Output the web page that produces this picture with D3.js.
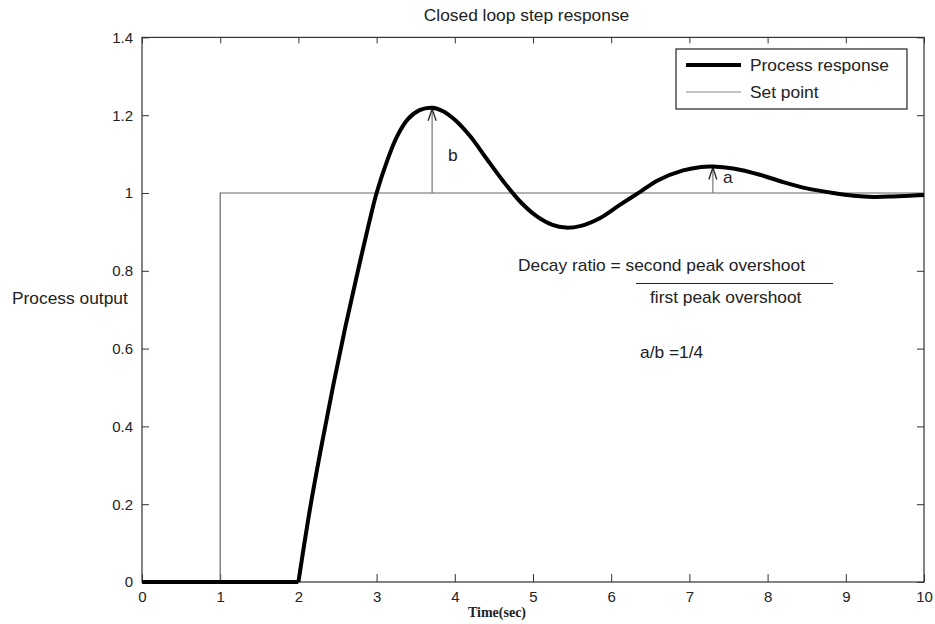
<!DOCTYPE html>
<html><head><meta charset="utf-8">
<script src="https://cdn.jsdelivr.net/npm/d3@7"></script>
<style>body{margin:0;background:#fff}svg{display:block}text{font-family:"Liberation Sans",Arial,sans-serif;fill:#222}</style>
</head><body>
<svg id="c" width="935" height="624"></svg>
<script>
const title = "Closed loop step response";
const xLabel = "Time(sec)";
const yLabel = "Process output";
const xTicks = [0,1,2,3,4,5,6,7,8,9,10];
const yTicks = [0,0.2,0.4,0.6,0.8,1,1.2,1.4];
const yTickLabels = ["0","0.2","0.4","0.6","0.8","1","1.2","1.4"];
const setT = [0,1,1,10];
const setY = [0,0,1,1];
const respT = [0,2.0,2.15,2.3,2.45,2.6,2.75,2.9,3.0,3.13,3.26,3.4,3.55,3.71,3.85,4.0,4.2,4.4,4.62,4.85,5.05,5.25,5.42,5.6,5.86,6.1,6.37,6.6,6.92,7.15,7.3,7.56,7.9,8.2,8.5,8.84,9.1,9.35,9.6,10];
const respY = [0,0,0.19,0.355,0.51,0.655,0.79,0.92,1.0,1.08,1.145,1.19,1.213,1.219,1.21,1.188,1.145,1.09,1.03,0.975,0.94,0.918,0.911,0.915,0.936,0.968,1.003,1.033,1.058,1.067,1.068,1.063,1.047,1.028,1.012,1.0,0.993,0.99,0.991,0.995];
const annB = {t:3.71, y0:1, y1:1.219, label:"b"};
const annA = {t:7.3, y0:1, y1:1.068, label:"a"};
const legendItems = ["Process response","Set point"];

const svg = d3.select("#c");
const x = d3.scaleLinear().domain([0,10]).range([142,924]);
const y = d3.scaleLinear().domain([0,1.4]).range([582,37.4]);
const SX = 1.085;
function stext(px,py,str,anchor){
  return svg.append("text").attr("transform",`translate(${px},${py}) scale(${SX},1)`)
    .attr("text-anchor",anchor||"start").style("font-size","16px").text(str);
}

stext(526.5,21,title,"middle");

// frame
svg.append("rect").attr("x",142).attr("y",y(1.4)).attr("width",782).attr("height",582-y(1.4)).attr("fill","none").attr("stroke","#333").attr("stroke-width",1.2);

// axes
const xb = svg.append("g").attr("transform","translate(0,582)").call(d3.axisBottom(x).tickValues(xTicks).tickSizeInner(-8).tickSizeOuter(0).tickPadding(12).tickFormat(d3.format("d")));
const xt = svg.append("g").attr("transform",`translate(0,${y(1.4)})`).call(d3.axisTop(x).tickValues(xTicks).tickSizeInner(-6).tickSizeOuter(0).tickFormat(""));
const yl = svg.append("g").attr("transform","translate(142,0)").call(d3.axisLeft(y).tickValues(yTicks).tickSizeInner(-7).tickSizeOuter(0).tickPadding(9).tickFormat((d,i)=>yTickLabels[i]));
const yr = svg.append("g").attr("transform","translate(924,0)").call(d3.axisRight(y).tickValues(yTicks).tickSizeInner(-7).tickSizeOuter(0).tickFormat(""));
[xb,xt,yl,yr].forEach(g=>{g.select(".domain").remove();g.selectAll("line").attr("stroke","#333");g.selectAll("text").style("font-size","15px").style("font-family","'Liberation Sans',Arial,sans-serif").attr("fill","#222");});
xb.selectAll("text").attr("dy","0.5em");

// set point
const line = d3.line().x(d=>x(d[0])).y(d=>y(d[1]));
svg.append("path").attr("d",line(setT.map((t,i)=>[t,setY[i]]))).attr("fill","none").attr("stroke","#666").attr("stroke-width",1.2);

// annotation arrows
function arrow(a, lx, ly){
  const xp=x(a.t), ytop=y(a.y1)+1;
  svg.append("line").attr("x1",xp).attr("x2",xp).attr("y1",y(a.y0)).attr("y2",ytop).attr("stroke","#777").attr("stroke-width",1.2);
  svg.append("path").attr("d",`M${xp-4},${ytop+12}L${xp},${ytop}L${xp+4},${ytop+12}`).attr("fill","none").attr("stroke","#222").attr("stroke-width",1.3);
  stext(lx,ly,a.label);
}
arrow(annB,448,161);
arrow(annA,723,183);

// response: flat part linear, dynamic part smooth
const pts = respT.map((t,i)=>[t,respY[i]]);
const flat = pts.filter(d=>d[0]<=2);
const dyn = pts.filter(d=>d[0]>=2);
svg.append("path").attr("d",line(flat)).attr("fill","none").attr("stroke","#000").attr("stroke-width",4);
svg.append("path").attr("d",d3.line().curve(d3.curveCatmullRom.alpha(0.5)).x(d=>x(d[0])).y(d=>y(d[1]))(dyn))
  .attr("fill","none").attr("stroke","#000").attr("stroke-width",4).attr("stroke-linejoin","round");

// labels
svg.append("text").attr("x",497).attr("y",617).attr("text-anchor","middle").style("font-family","'Liberation Serif','Times New Roman',serif").style("font-weight","bold").style("font-size","14px").text(xLabel);
stext(12,304,yLabel);

stext(518,271,"Decay ratio = second peak overshoot");
svg.append("line").attr("x1",636).attr("x2",833).attr("y1",283.5).attr("y2",283.5).attr("stroke","#222").attr("stroke-width",1);
stext(650,303,"first peak overshoot");
stext(640,358,"a/b =1/4");

// legend
const lg = svg.append("g");
lg.append("rect").attr("x",676).attr("y",49).attr("width",231).attr("height",60).attr("fill","#fff").attr("stroke","#222").attr("stroke-width",1.2);
lg.append("line").attr("x1",686).attr("x2",741).attr("y1",65).attr("y2",65).attr("stroke","#000").attr("stroke-width",4);
lg.append("line").attr("x1",686).attr("x2",741).attr("y1",92).attr("y2",92).attr("stroke","#888").attr("stroke-width",1.2);
svg.append("text").attr("transform",`translate(750,71) scale(${SX},1)`).style("font-size","16px").text(legendItems[0]);
svg.append("text").attr("transform",`translate(750,98) scale(${SX},1)`).style("font-size","16px").text(legendItems[1]);
</script>
</body></html>
